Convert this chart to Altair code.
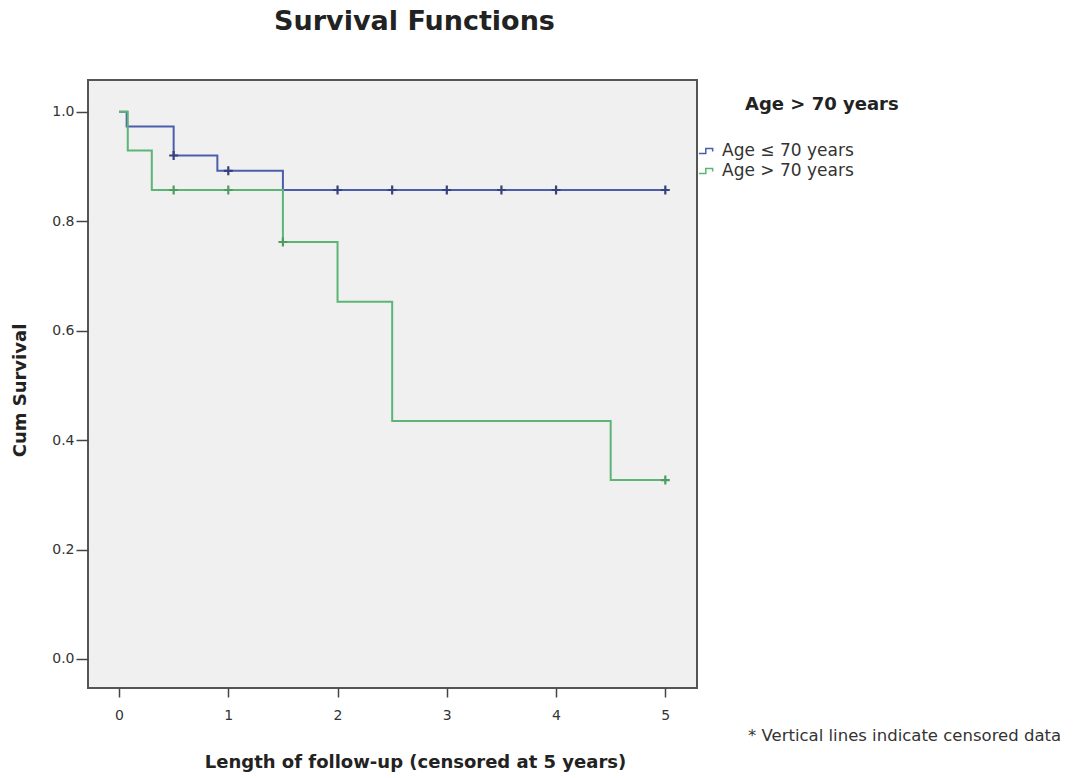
import altair as alt
import pandas as pd

# ---- data ----
groups = ["Age ≤ 70 years", "Age > 70 years"]

# step curves (time, cumulative survival), step-after
young_t = [0.0, 0.07, 0.5, 0.9, 1.5, 5.0]
young_s = [1.0, 0.973, 0.920, 0.892, 0.857, 0.857]
old_t = [0.0, 0.08, 0.3, 1.5, 2.0, 2.5, 4.5, 5.0]
old_s = [1.0, 0.929, 0.857, 0.762, 0.653, 0.435, 0.327, 0.327]

# censored observations
young_cens_t = [0.5, 1.0, 2.0, 2.5, 3.0, 3.5, 4.0, 5.0]
young_cens_s = [0.920, 0.892, 0.857, 0.857, 0.857, 0.857, 0.857, 0.857]
old_cens_t = [0.5, 1.0, 1.5, 5.0]
old_cens_s = [0.857, 0.857, 0.762, 0.327]

y_ticks = [0.0, 0.2, 0.4, 0.6, 0.8, 1.0]
x_ticks = [0, 1, 2, 3, 4, 5]

colors = ["#4b5eae", "#5cb574"]
cens_colors = ["#34427e", "#4f9c63"]

curves = pd.DataFrame(
    {"t": young_t + old_t,
     "s": young_s + old_s,
     "g": [groups[0]] * len(young_t) + [groups[1]] * len(old_t)}
)
cens = pd.DataFrame(
    {"t": young_cens_t + old_cens_t,
     "s": young_cens_s + old_cens_s,
     "g": [groups[0]] * len(young_cens_t) + [groups[1]] * len(old_cens_t)}
)

FONT = "DejaVu Sans"
W, H = 609, 608
PL, PT = 88, 80

xscale = alt.Scale(domain=[-0.284, 5.29], nice=False, zero=False)
yscale = alt.Scale(domain=[-0.053, 1.058], nice=False, zero=False)

x_enc = alt.X(
    "t:Q", scale=xscale,
    axis=alt.Axis(values=x_ticks, format="d", title="Length of follow-up (censored at 5 years)",
                  grid=False, domain=False, tickSize=9, tickWidth=1.5, tickColor="#444",
                  labelPadding=11, labelFontSize=14, labelColor="#333", labelFont=FONT,
                  titleFontSize=18, titleFontWeight="bold", titleColor="#222", titleFont=FONT,
                  titleX=327, titleY=74, titleBaseline="middle", titleAnchor="middle", titleAlign="center"),
)
y_enc = alt.Y(
    "s:Q", scale=yscale,
    axis=alt.Axis(values=y_ticks, format=".1f", title="Cum Survival",
                  grid=False, domain=False, tickSize=12, tickWidth=1.5, tickColor="#444",
                  labelPadding=2, labelFontSize=14, labelColor="#333", labelFont=FONT,
                  titleFontSize=18, titleFontWeight="bold", titleColor="#222", titleFont=FONT,
                  titleX=-68, titleY=310, titleBaseline="middle", titleAlign="center", titleAngle=-90),
)
color_scale = alt.Scale(domain=groups, range=colors)

lines = alt.Chart(curves).mark_line(interpolate="step-after", strokeWidth=2).encode(
    x=x_enc, y=y_enc,
    color=alt.Color(
        "g:N", scale=color_scale,
        legend=alt.Legend(
            title=None, orient="none", legendX=W + 1, legendY=62,
            symbolType="M-1,0.3H-0.15V-0.3H0.7V0.05", symbolSize=260,
            symbolStrokeWidth=1.5, symbolFillColor="transparent",
            labelFontSize=17, labelColor="#333", labelFont=FONT, labelOffset=6, rowPadding=3,
        ),
    ),
)

marks = alt.Chart(cens).mark_point(
    shape="M-1,0H1M0,-1V1", filled=False, size=80, strokeWidth=2.2, opacity=1
).encode(
    x="t:Q", y="s:Q",
    color=alt.Color("g:N", scale=alt.Scale(domain=groups, range=cens_colors), legend=None),
)

legend_title = ["Age > 70 years"]
lt = alt.Chart(pd.DataFrame({"t": legend_title})).mark_text(
    align="left", baseline="middle", fontSize=18, fontWeight="bold", color="#222", font=FONT
).encode(text="t:N", x=alt.value(745 - PL), y=alt.value(105 - PT))

footnote = ["* Vertical lines indicate censored data"]
fn = alt.Chart(pd.DataFrame({"t": footnote})).mark_text(
    align="left", baseline="middle", fontSize=16.5, color="#333", font=FONT
).encode(text="t:N", x=alt.value(748 - PL), y=alt.value(736 - PT))

chart = (
    alt.layer(lines, marks, lt, fn)
    .resolve_scale(color="independent")
    .properties(
        width=W, height=H,
        autosize=alt.AutoSizeParams(type="none"),
        padding={"left": PL, "top": PT, "right": 1075 - PL - W, "bottom": 778 - PT - H},
        title=alt.TitleParams("Survival Functions", fontSize=27, fontWeight="bold", color="#222",
                              font=FONT, anchor="middle", dx=22, offset=44),
        background="white",
    )
    .configure(font=FONT)
    .configure_view(fill="#f0f0f0", stroke="#555", strokeWidth=2)
)

chart.save("out.html", embed_options={"renderer": "svg", "actions": False})
